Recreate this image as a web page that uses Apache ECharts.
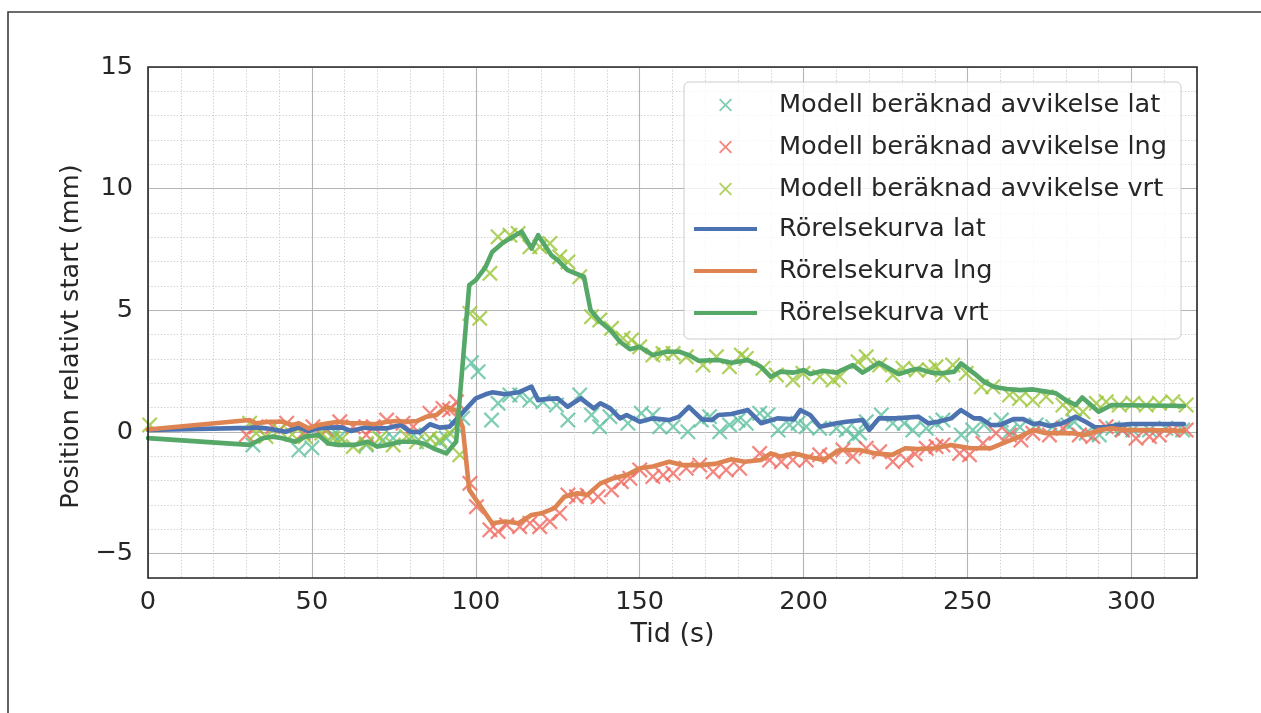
<!DOCTYPE html>
<html>
<head>
<meta charset="utf-8">
<title>Position relativt start</title>
<script src="https://cdn.jsdelivr.net/npm/echarts@6/dist/echarts.min.js"></script>
<style>
html, body { margin: 0; padding: 0; background: #fff; }
#chart { width: 1261px; height: 713px; }
</style>
</head>
<body>
<div id="chart"></div>
<script>
// rörelsekurvor: [tid (s), position (mm)]
var latLine = [[0,0.08],[31,0.17],[33,0.19],[36,0.15],[39,0.08],[42,0.01],[46,0.19],[49,0.04],[52,0.15],[55,0.18],[59,0.19],[62,0.04],[66,0.18],[69,0.15],[73,0.15],[77,0.29],[80,0.01],[83,-0.01],[86,0.32],[89,0.18],[92,0.22],[95,0.65],[100,1.38],[103,1.55],[105,1.63],[109,1.55],[113,1.63],[117,1.86],[119,1.31],[122,1.36],[125,1.38],[128,1.04],[132,1.38],[136,0.97],[138,1.18],[141,0.97],[144,0.56],[146,0.7],[150,0.42],[154,0.56],[159,0.49],[162,0.63],[165,1.03],[169,0.52],[172,0.49],[174,0.7],[178,0.74],[183,0.9],[187,0.36],[192,0.56],[197,0.52],[199,0.9],[202,0.7],[205,0.22],[210,0.36],[213,0.42],[218,0.49],[220,0.08],[223,0.56],[228,0.56],[235,0.63],[238,0.36],[241,0.42],[245,0.56],[248,0.9],[252,0.56],[254,0.56],[257,0.29],[260,0.29],[264,0.53],[267,0.53],[270,0.33],[272,0.36],[275,0.25],[279,0.36],[283,0.63],[286,0.42],[289,0.19],[292,0.19],[296,0.29],[300,0.33],[316,0.33]];
var lngLine = [[0,0.1],[31,0.49],[33,0.36],[37,0.42],[41,0.42],[44,0.29],[46,0.36],[49,0.15],[52,0.29],[55,0.36],[58,0.42],[62,0.36],[66,0.36],[69,0.32],[73,0.42],[76,0.45],[79,0.42],[82,0.45],[85,0.63],[88,0.7],[91,1.04],[94,0.88],[96,0.2],[98,-2.38],[105,-3.75],[109,-3.68],[113,-3.75],[117,-3.41],[120,-3.34],[124,-3.13],[127,-2.66],[131,-2.52],[134,-2.59],[138,-2.11],[142,-1.9],[146,-1.77],[150,-1.49],[154,-1.42],[159,-1.22],[163,-1.36],[168,-1.36],[173,-1.31],[178,-1.12],[182,-1.22],[187,-1.15],[190,-0.88],[193,-1.01],[197,-0.88],[201,-1.01],[206,-1.15],[211,-0.74],[217,-0.74],[222,-0.88],[227,-0.94],[231,-0.67],[235,-0.7],[240,-0.67],[245,-0.53],[251,-0.67],[257,-0.67],[262,-0.4],[266,-0.19],[270,0.08],[274,-0.05],[282,-0.05],[286,-0.12],[290,0.08],[294,0.15],[298,0.08],[306,0.08],[316,0.05]];
var vrtLine = [[0,-0.25],[31,-0.53],[33,-0.4],[35,-0.26],[38,-0.19],[41,-0.26],[45,-0.4],[48,-0.19],[52,-0.12],[55,-0.47],[58,-0.53],[63,-0.53],[67,-0.4],[70,-0.6],[73,-0.53],[77,-0.4],[81,-0.4],[84,-0.47],[87,-0.67],[91,-0.88],[94,-0.4],[98,6.04],[100,6.24],[103,6.79],[105,7.4],[108,7.75],[111,8.0],[114,8.23],[117,7.54],[119,8.09],[123,7.27],[125,7.06],[128,6.65],[130,6.54],[133,6.38],[135,5.01],[138,4.53],[141,4.19],[144,3.71],[147,3.4],[150,3.5],[154,3.16],[158,3.3],[162,3.3],[165,3.16],[168,2.93],[174,2.96],[178,2.85],[183,2.96],[187,2.68],[190,2.27],[193,2.48],[197,2.44],[200,2.55],[202,2.38],[206,2.52],[210,2.44],[215,2.75],[218,2.44],[223,2.85],[229,2.38],[233,2.55],[235,2.6],[239,2.44],[242,2.41],[246,2.48],[248,2.82],[252,2.41],[255,2.07],[258,1.86],[262,1.77],[266,1.72],[270,1.75],[274,1.66],[277,1.59],[280,1.31],[283,1.11],[285,1.42],[288,1.07],[290,0.83],[294,1.11],[316,1.07]];

// modellberäknade punkter
var latPts = [[32,-0.53],[46,-0.74],[50,-0.65],[56.5,-0.12],[58.5,-0.2],[66.6,-0.53],[71.7,-0.33],[74.8,-0.25],[81,-0.12],[85,-0.4],[89,-0.4],[91,-0.25],[94,0.22],[96,0.57],[98.7,2.85],[100.7,2.48],[104.8,0.49],[106.8,1.18],[110.4,1.52],[113.4,1.52],[116.5,1.31],[120.5,1.24],[124.6,1.11],[128.1,0.49],[131.7,1.52],[135.3,0.7],[137.8,0.22],[140.9,0.63],[146.4,0.36],[150.5,0.77],[154,0.7],[156.1,0.22],[160.2,0.22],[164.7,0.01],[168.8,0.49],[171.3,0.63],[174.4,0.01],[177.4,0.29],[180,0.49],[182.5,0.36],[186.6,0.77],[189.1,0.7],[192.2,0.08],[195.7,0.29],[198.3,0.36],[200.8,0.22],[204.9,0.15],[210,0.15],[213,0.08],[215.5,-0.19],[217.1,-0.05],[219.1,0.42],[223.7,0.7],[227.2,0.36],[230.7,0.36],[233.3,0.08],[237.4,0.15],[240.4,0.36],[242.5,0.49],[248.1,-0.12],[251.6,0.08],[255,0.3],[260.3,0.49],[262.8,0.01],[266,0.2],[270.9,0.29],[276,0.22],[280.6,0.29],[282.6,0.42],[286.2,-0.05],[290.2,-0.12],[294.3,0.15],[297,0.1],[300.4,0.08],[305.5,0.08],[310.5,0.15],[315.6,0.08]];
var lngPts = [[30,-0.12],[33,0.22],[38,0.22],[42.3,0.36],[47.3,-0.05],[50.3,0.22],[54.5,0.08],[58.5,0.42],[62.6,0.22],[66.6,-0.12],[68.7,0.22],[72.8,0.49],[77.8,0.36],[80.9,0.22],[86,0.77],[90,0.97],[92,0.9],[94.1,1.24],[98.2,-2.11],[100.2,-3.07],[104.3,-4.02],[106.8,-4.09],[109.4,-3.82],[113.4,-3.89],[116.5,-3.75],[119.5,-3.89],[122.6,-3.68],[125.6,-3.34],[128.1,-2.59],[130.7,-2.66],[134,-2.6],[137.3,-2.66],[141.4,-2.38],[144.4,-2.04],[147,-1.9],[150,-1.56],[154,-1.83],[157.1,-1.77],[160.2,-1.7],[164.2,-1.49],[168.3,-1.36],[172.4,-1.63],[176.4,-1.56],[180.5,-1.49],[186.6,-0.88],[189.6,-1.15],[193.2,-1.22],[196.7,-1.15],[200.8,-1.15],[204.9,-0.94],[207.9,-1.01],[212,-0.74],[215,-1.01],[219.1,-0.67],[223.2,-0.81],[227.2,-1.22],[231.3,-1.15],[234,-0.9],[237.4,-0.67],[240.4,-0.6],[242.5,-0.53],[247.6,-0.88],[250.6,-0.94],[254.7,-0.47],[258.7,-0.05],[262.8,-0.12],[266.3,-0.33],[269.9,-0.05],[275,-0.12],[279.1,0.15],[284.1,-0.12],[288.2,-0.19],[292.3,0.22],[297.3,0.08],[301.4,-0.26],[305.5,-0.19],[308.5,-0.12],[312.6,0.08],[316.7,0.08]];
var vrtPts = [[0.5,0.29],[31,0.36],[33,-0.05],[36,-0.19],[40,0.08],[44,-0.1],[48,-0.2],[53,-0.05],[56.5,-0.26],[59,-0.3],[62.6,-0.6],[66.6,-0.47],[70.7,-0.26],[74.8,-0.53],[78.9,-0.19],[81.9,-0.4],[86,-0.26],[89,-0.33],[92,-0.05],[95.1,-0.94],[98.2,4.87],[101.2,4.67],[104.3,6.52],[106.8,8.02],[110.4,8.09],[112.9,8.16],[116.5,7.61],[119.5,7.61],[122.6,7.75],[125.6,7.2],[128.1,6.99],[131.7,6.38],[135.3,4.74],[137.8,4.6],[141.4,4.26],[144.9,3.85],[147.5,3.78],[150,3.5],[154,3.16],[157.1,3.23],[160.2,3.23],[164.2,3.09],[169.3,2.75],[173.4,3.09],[177.4,2.68],[181,3.16],[182.5,3.02],[187.6,2.62],[191.7,2.34],[196.7,2.14],[199.8,2.41],[204.9,2.27],[209,2.14],[211,2.27],[216.6,2.89],[219.1,3.09],[223.2,2.75],[227.2,2.34],[230.3,2.62],[234.4,2.55],[238.4,2.55],[240.4,2.68],[242.5,2.34],[245.5,2.75],[249.6,2.41],[254.2,1.86],[257.7,1.86],[262.8,1.52],[265.9,1.38],[269.9,1.31],[274,1.45],[279.1,1.11],[282.1,0.97],[285.2,0.83],[289.3,1.18],[292.3,1.24],[296.3,1.11],[300.4,1.18],[304.5,1.11],[308.5,1.18],[312.6,1.24],[316.7,1.11]];

var ptNames = ['Modell beräknad avvikelse lat', 'Modell beräknad avvikelse lng', 'Modell beräknad avvikelse vrt'];
var lineNames = ['Rörelsekurva lat', 'Rörelsekurva lng', 'Rörelsekurva vrt'];

var FONT = 'DejaVu Sans';
var TXT = '#262626';
var MAJOR = '#b4b4b4';
var DOT = '#cdcdcd';
var NONE = 'rgba(0,0,0,0)';
// kryss som fylld polygon
var CROSS = 'path://M1,0L5,4L9,0L10,1L6,5L10,9L9,10L5,6L1,10L0,9L4,5L0,1Z';

var chart = echarts.init(document.getElementById('chart'));

function scatter(name, data, color) {
    return {
        name: name, type: 'scatter', data: data,
        symbol: CROSS, symbolSize: 16,
        itemStyle: { color: color },
        z: 2, silent: true
    };
}
function line(name, data, color) {
    return {
        name: name, type: 'line', data: data,
        showSymbol: false, symbol: 'none',
        lineStyle: { color: color, width: 4.6, join: 'round', cap: 'round' },
        itemStyle: { color: color },
        z: 3, silent: true
    };
}

var option = {
    animation: false,
    backgroundColor: '#fff',
    textStyle: { fontFamily: FONT },
    grid: { left: 148, top: 67, width: 1049, height: 511, show: false },
    xAxis: [{
        type: 'value', min: 0, max: 320, interval: 10,
        axisLine: { show: false }, axisTick: { show: false },
        axisLabel: {
            formatter: function (v) { return v % 50 === 0 ? String(v) : ''; },
            fontSize: 25.6, color: TXT, margin: 11, fontFamily: FONT
        },
        splitLine: { lineStyle: { color: [MAJOR, NONE, NONE, NONE, NONE], width: 1.1 } },
        name: 'Tid (s)', nameLocation: 'middle', nameGap: 43,
        nameTextStyle: { fontSize: 27, color: TXT, fontFamily: FONT }
    }, {
        type: 'value', min: 0, max: 320, interval: 10,
        axisLine: { show: false }, axisTick: { show: false }, axisLabel: { show: false },
        splitLine: { lineStyle: { color: [NONE, DOT, DOT, DOT, DOT], width: 1, type: [1.3, 1.9] } }
    }],
    yAxis: [{
        type: 'value', min: -6, max: 15, interval: 1,
        axisLine: { show: false }, axisTick: { show: false },
        axisLabel: {
            formatter: function (v) { return v % 5 === 0 ? String(v).replace('-', '\u2212') : ''; },
            fontSize: 25.6, color: TXT, margin: 15, fontFamily: FONT
        },
        splitLine: { lineStyle: { color: [NONE, MAJOR, NONE, NONE, NONE], width: 1.1 } },
        name: 'Position relativt start (mm)', nameLocation: 'middle', nameGap: 57, nameRotate: 90,
        nameTextStyle: { fontSize: 25.6, color: TXT, fontFamily: FONT, padding: [0, 28, 0, 0] }
    }, {
        type: 'value', min: -6, max: 15, interval: 1,
        axisLine: { show: false }, axisTick: { show: false }, axisLabel: { show: false },
        splitLine: { lineStyle: { color: [DOT, NONE, DOT, DOT, DOT], width: 1, type: [1.3, 1.9] } }
    }],
    legend: [{
        data: ptNames.map(function (n) { return { name: n, icon: CROSS }; }),
        orient: 'vertical', left: 719, top: 84, padding: 0,
        itemWidth: 13, itemHeight: 13, itemGap: 0, selectedMode: false, z: 10,
        textStyle: { fontSize: 25.6, color: TXT, fontFamily: FONT, lineHeight: 42, padding: [0, 0, 0, 42] }
    }, {
        data: lineNames.map(function (n) { return { name: n, icon: 'rect' }; }),
        orient: 'vertical', left: 694, top: 208, padding: 0,
        itemWidth: 63, itemHeight: 4, itemGap: 0, selectedMode: false, z: 10,
        textStyle: { fontSize: 25.6, color: TXT, fontFamily: FONT, lineHeight: 42, padding: [0, 0, 0, 17] }
    }],
    graphic: [
        { type: 'rect', z: 20, silent: true,
          shape: { x: 8, y: 12, width: 1400, height: 1000 },
          style: { fill: 'none', stroke: '#3c3c3c', lineWidth: 1.6 } },
        { type: 'rect', z: 8, silent: true,
          shape: { x: 148, y: 67, width: 1049, height: 511 },
          style: { fill: 'none', stroke: '#262626', lineWidth: 1.6 } },
        { type: 'rect', z: 6, silent: true,
          shape: { x: 684, y: 82, width: 497, height: 257, r: 5 },
          style: { fill: 'rgba(255,255,255,0.8)', stroke: '#cccccc', lineWidth: 1 } }
    ],
    series: [
        scatter(ptNames[0], latPts, '#5fc0a0'),
        scatter(ptNames[1], lngPts, '#f0685e'),
        scatter(ptNames[2], vrtPts, '#9bc537'),
        line(lineNames[0], latLine, '#4c72b0'),
        line(lineNames[1], lngLine, '#dd8452'),
        line(lineNames[2], vrtLine, '#55a868')
    ]
};
chart.setOption(option);
</script>
</body>
</html>
